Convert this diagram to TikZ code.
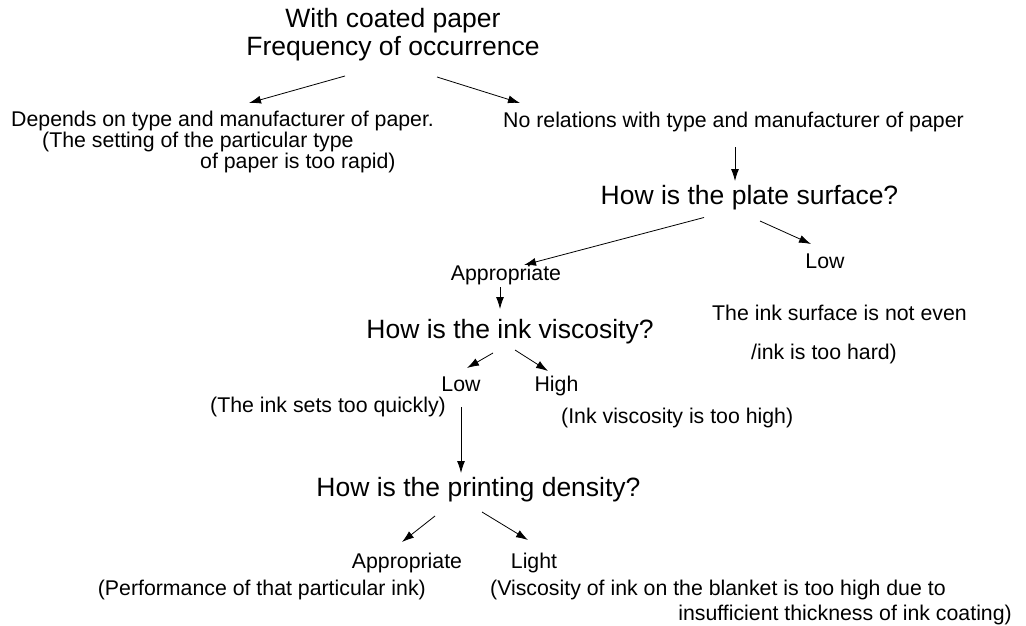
\documentclass[tikz,border=0pt]{standalone}
\usepackage{fontspec}
\setmainfont{Liberation Sans}
\usetikzlibrary{arrows.meta,calc}
\tikzset{
  med/.style={font=\fontsize{21.3}{25}\selectfont, inner sep=0pt, anchor=base},
  big/.style={font=\fontsize{26.5}{28}\selectfont, inner sep=0pt, anchor=base},
  arr/.style={-{Latex[length=12pt,width=8pt]}, line width=0.8pt},
}
\begin{document}
\begin{tikzpicture}[x=1pt,y=-1pt]
  \useasboundingbox (0,0) rectangle (1026,626);
  % title
  \node[big, anchor=center, align=center] (title) at (393,35) {With coated paper\\Frequency of occurrence};
  % first split
  \node[med, anchor=base west] (dep1) at (11,126) {Depends on type and manufacturer of paper.};
  \node[med, anchor=base west] (dep2) at (42,147) {(The setting of the particular type};
  \node[med, anchor=base west] (dep3) at (200,168) {of paper is too rapid)};
  \node[med, anchor=base west] (norel) at (503,127) {No relations with type and manufacturer of paper};
  % plate surface
  \node[big] (plate) at (749.5,204) {How is the plate surface?};
  \node[med] (plateok) at (506,280) {Appropriate};
  \node[med] (platelow) at (825,268) {Low};
  \node[med] (uneven) at (839.5,320) {The ink surface is not even};
  \node[med] (hard) at (824,359) {/ink is too hard)};
  % ink viscosity
  \node[big] (visc) at (510,338) {How is the ink viscosity?};
  \node[med] (visclow) at (461,391) {Low};
  \node[med] (vischigh) at (556.5,391) {High};
  \node[med] (quick) at (328,412) {(The ink sets too quickly)};
  \node[med, anchor=base west] (toohigh) at (561,423) {(Ink viscosity is too high)};
  % printing density
  \node[big] (dens) at (478.5,496) {How is the printing density?};
  \node[med] (densok) at (407,568) {Appropriate};
  \node[med] (light) at (534,568) {Light};
  \node[med, anchor=base east] (perf) at (426,595) {(Performance of that particular ink)};
  \node[med, anchor=base west] (blanket1) at (490,595) {(Viscosity of ink on the blanket is too high due to};
  \node[med, anchor=base east] (blanket2) at (1012,620) {insufficient thickness of ink coating)};
  % arrows
  \draw[arr] ($(title.center)+(-48,41)$) -- ($(dep1.base west)+(238,-23)$);
  \draw[arr] ($(title.center)+(44,42)$) -- ($(norel.base west)+(17,-24)$);
  \draw[arr] ($(norel.base west)+(232,20)$) -- ($(plate.base)+(-14.5,-23)$);
  \draw[arr] ($(plate.base)+(-45.5,13.5)$) -- ($(plateok.base)+(18,-15)$);
  \draw[arr] ($(plate.base)+(10.5,17)$) -- ($(platelow.base)+(-14,-24)$);
  \draw[arr] ($(plateok.base)+(-6,7)$) -- ($(visc.base)+(-10,-29)$);
  \draw[arr] ($(visc.base)+(-17,15)$) -- ($(visclow.base)+(6,-23)$);
  \draw[arr] ($(visc.base)+(5,12)$) -- ($(vischigh.base)+(-8.5,-20)$);
  \draw[arr] ($(visclow.base)+(0,16)$) -- ($(dens.base)+(-17.5,-23)$);
  \draw[arr] ($(dens.base)+(-43.5,20)$) -- ($(densok.base)+(-5,-26)$);
  \draw[arr] ($(dens.base)+(3.5,16)$) -- ($(light.base)+(-6,-28)$);
\end{tikzpicture}
\end{document}
